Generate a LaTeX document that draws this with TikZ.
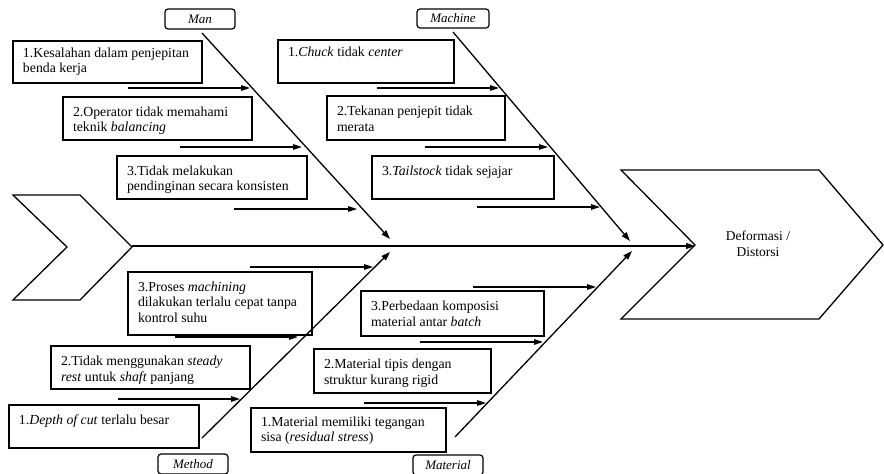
\documentclass[tikz,border=0pt]{standalone}
\usepackage{fontspec}
\setmainfont{Liberation Serif}
\usetikzlibrary{arrows.meta}
\newcommand{\cbox}[7]{%
  \node[cbx,minimum width=#4pt,minimum height=#5pt] (#1) at (#2,#3) {};
  \node[ctxt] (#1t) at (#2+10,#3+#6) {#7};}
\begin{document}
\begin{tikzpicture}[x=1pt,y=-1pt,
  every node/.style={inner sep=0pt,outer sep=0pt},
  cbx/.style={draw,line width=1.3pt,anchor=north west},
  ctxt/.style={anchor=north west,align=left,font=\fontsize{13.8}{15.8}\selectfont},
  cat/.style={draw,line width=1.2pt,rounded corners=3pt,anchor=north west,minimum width=70pt,minimum height=20pt,font=\fontsize{13}{15}\selectfont\itshape},
  bone/.style={line width=1.3pt,-{Triangle[length=9pt,width=6pt]}},
  sub/.style={line width=1.3pt,-{Triangle[length=9pt,width=5.5pt]}},
  outline/.style={line width=1.3pt,line join=miter}
]
\useasboundingbox (0,0) rectangle (884,474);

% tail and head
\draw[outline] (13,195) -- (80,195) -- (132,247) -- (80,300) -- (13,300) -- (67,247) -- cycle;
\draw[outline] (621,170) -- (819,170) -- (883,245) -- (819,319) -- (621,319) -- (695,245) -- cycle;
\node[font=\fontsize{13.5}{16}\selectfont,align=center] (effect) at (758,244) {Deformasi /\\Distorsi};

% spine
\coordinate (tip) at (132,246);
\coordinate (notch) at (695,246);
\draw[bone] (tip) -- (notch);

% category labels
\node[cat] (man) at (165,9) {Man};
\node[cat,minimum width=72pt,minimum height=19pt] (machine) at (417,9) {Machine};
\node[cat] (method) at (158,454) {Method};
\node[cat] (material) at (413,455) {Material};

% bones
\coordinate (manS) at (202,33);  \coordinate (manE) at (390,239);
\coordinate (macS) at (453,32);  \coordinate (macE) at (630,241);
\coordinate (metS) at (202,438); \coordinate (metE) at (390,252);
\coordinate (matS) at (455,437); \coordinate (matE) at (632,251);
\draw[bone] (manS) -- (manE);
\draw[bone] (macS) -- (macE);
\draw[bone] (metS) -- (metE);
\draw[bone] (matS) -- (matE);

% Man boxes
\cbox{m1}{13}{41}{189}{42}{6.5}{1.Kesalahan dalam penjepitan\\benda kerja}
\cbox{m2}{63}{97}{189}{43}{9.5}{2.Operator tidak memahami\\teknik \textit{balancing}}
\cbox{m3}{117}{156}{190}{43}{9.5}{3.Tidak melakukan\\pendinginan secara konsisten}
% Machine boxes
\cbox{c1}{278}{40}{176}{43}{6.5}{1.\textit{Chuck} tidak \textit{center}}
\cbox{c2}{327}{96}{178}{44}{10}{2.Tekanan penjepit tidak\\merata}
\cbox{c3}{372}{156}{182}{43}{9.5}{3.\textit{Tailstock} tidak sejajar}
% Method boxes
\cbox{t3}{128}{272}{184}{63}{9.5}{3.Proses \textit{machining}\\dilakukan terlalu cepat tanpa\\kontrol suhu}
\cbox{t2}{51}{346}{199}{43}{10}{2.Tidak menggunakan \textit{steady}\\\textit{rest} untuk \textit{shaft} panjang}
\cbox{t1}{9}{405}{190}{43}{9.5}{1.\textit{Depth of cut} terlalu besar}
% Material boxes
\cbox{r3}{361}{291}{183}{45}{10}{3.Perbedaan komposisi\\material antar \textit{batch}}
\cbox{r2}{314}{349}{177}{44}{10}{2.Material tipis dengan\\struktur kurang rigid}
\cbox{r1}{251}{408}{195}{44}{8.5}{1.Material memiliki tegangan\\sisa (\textit{residual stress})}

% sub-cause arrows
\coordinate (m1a) at (128,88);  \coordinate (m1b) at (250,88);
\coordinate (m2a) at (180,147); \coordinate (m2b) at (302,147);
\coordinate (m3a) at (234,209); \coordinate (m3b) at (357,209);
\coordinate (c1a) at (377,88);  \coordinate (c1b) at (499,88);
\coordinate (c2a) at (425,147); \coordinate (c2b) at (548,147);
\coordinate (c3a) at (477,207); \coordinate (c3b) at (600,207);
\coordinate (t3a) at (250,267); \coordinate (t3b) at (373,267);
\coordinate (t2a) at (175,337); \coordinate (t2b) at (298,337);
\coordinate (t1a) at (118,399); \coordinate (t1b) at (240,399);
\coordinate (r3a) at (473,287); \coordinate (r3b) at (596,287);
\coordinate (r2a) at (420,342); \coordinate (r2b) at (543,342);
\coordinate (r1a) at (364,403); \coordinate (r1b) at (486,403);
\foreach \a in {m1,m2,m3,c1,c2,c3,t1,t2,t3,r1,r2,r3}
  \draw[sub] (\a a) -- (\a b);
\end{tikzpicture}
\end{document}
